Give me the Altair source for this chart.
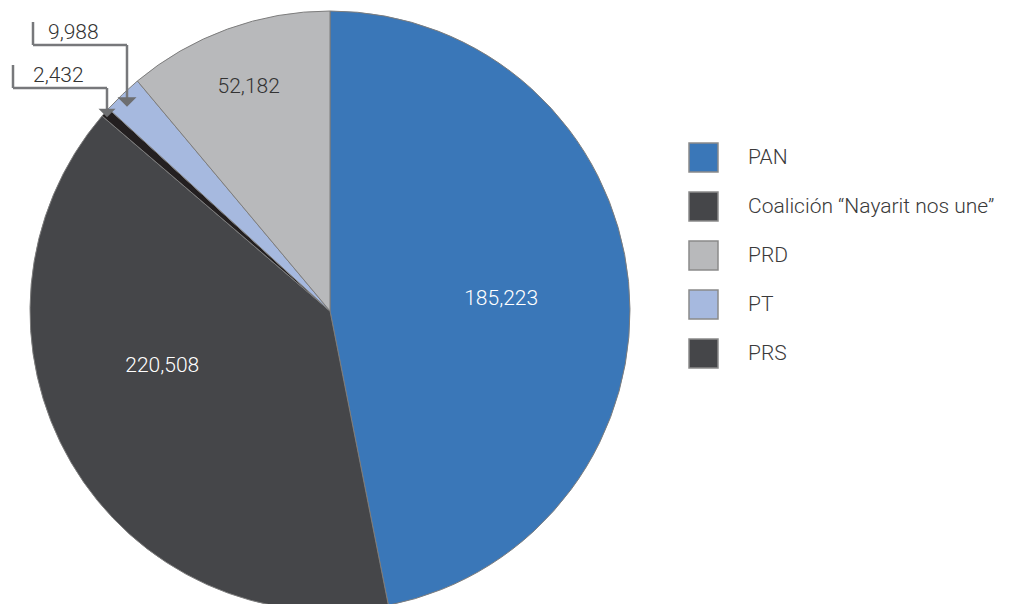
import altair as alt
import pandas as pd

# ---- data (clockwise from 12 o'clock) ----
slice_parties = ["PAN", "Coalición “Nayarit nos une”", "PRS", "PT", "PRD"]
slice_votes = [220508, 185223, 2432, 9988, 52182]          # sizes of the slices as drawn
slice_labels = ["185,223", "220,508", "2,432", "9,988", "52,182"]  # numbers printed on the chart
slice_colors = ["#3a77b8", "#454649", "#231f20", "#a6b9df", "#b8b9bb"]

legend_parties = ["PAN", "Coalición “Nayarit nos une”", "PRD", "PT", "PRS"]
legend_colors = ["#3a77b8", "#454649", "#b8b9bb", "#a6b9df", "#454649"]

df = pd.DataFrame({
    "party": slice_parties,
    "votes": slice_votes,
    "label": slice_labels,
    "fillc": slice_colors,
    "rank": list(range(len(slice_parties))),
})
leg = pd.DataFrame({"party": legend_parties})
one = pd.DataFrame({"k": [0]})

CX, CY, R = 322, 303, 300
FONT = "Roboto"
FW = 300
FS = 21
LINE = "#77787b"

base = alt.Chart(df).encode(
    theta=alt.Theta("votes:Q", stack=True),
    order=alt.Order("rank:Q", sort="ascending"),
    x=alt.value(CX),
    y=alt.value(CY),
)

pie = base.mark_arc(outerRadius=R, stroke="#7d7d7d", strokeWidth=1).encode(
    fill=alt.Fill("fillc:N", scale=None)
)


def label_layer(rank, radius, color, dx=0, dy=0):
    return base.mark_text(
        radius=radius, fontSize=FS, font=FONT, fontWeight=FW, color=color, dx=dx, dy=dy,
        baseline="middle", align="center"
    ).encode(text=alt.condition(f"datum.rank == {rank}", "label:N", alt.value("")))


lab_pan = label_layer(0, 172, "white", dx=0, dy=5)
lab_coal = label_layer(1, 177, "white", dx=-15, dy=-34)
lab_prd = label_layer(4, 238, "#333333")


def seg(x1, y1, x2, y2):
    return alt.Chart(one).mark_rule(color=LINE, strokeWidth=2.5).encode(
        x=alt.value(x1), x2=alt.value(x2), y=alt.value(y1), y2=alt.value(y2)
    )


def arrow(x, y, size):
    return alt.Chart(one).mark_point(
        shape="M-1,-0.5L1,-0.5L0,0.5Z", filled=True, color="#6d6e70", opacity=1, size=size
    ).encode(x=alt.value(x), y=alt.value(y))


def ctext(x, y, t):
    return alt.Chart(one).mark_text(
        align="left", baseline="middle", fontSize=FS, font=FONT, fontWeight=FW,
        color="#333333", text=t
    ).encode(x=alt.value(x), y=alt.value(y))


call_pt = [seg(25, 14, 25, 37), seg(25, 37, 119, 37), seg(119, 37, 119, 90),
           arrow(119, 94, 361), ctext(40, 25, slice_labels[3])]
call_prs = [seg(5, 57, 5, 80), seg(5, 80, 99, 80), seg(99, 80, 99, 101),
            arrow(99, 105, 289), ctext(25, 68, slice_labels[2])]

legend_layer = alt.Chart(leg).mark_point(shape="square", filled=True, opacity=0).encode(
    x=alt.value(0),
    y=alt.value(0),
    color=alt.Color(
        "party:N",
        sort=legend_parties,
        scale=alt.Scale(domain=legend_parties, range=legend_colors),
        legend=alt.Legend(
            title=None, orient="none", legendX=680, legendY=134,
            symbolType="square", symbolSize=841, symbolOpacity=1,
            symbolStrokeColor="#8a8a8a", symbolStrokeWidth=1.5,
            labelFont=FONT, labelFontWeight=FW, labelFontSize=FS, labelColor="#3a3a3a",
            labelOffset=29, rowPadding=14, padding=0, labelLimit=400,
        ),
    ),
)

chart = alt.layer(
    pie, lab_pan, lab_coal, lab_prd, *call_pt, *call_prs, legend_layer
).properties(
    width=995, height=596, autosize=alt.AutoSizeParams(type="none"), padding=0
).configure_view(stroke=None)

chart.save("out.html", embed_options={"renderer": "svg", "actions": False})
